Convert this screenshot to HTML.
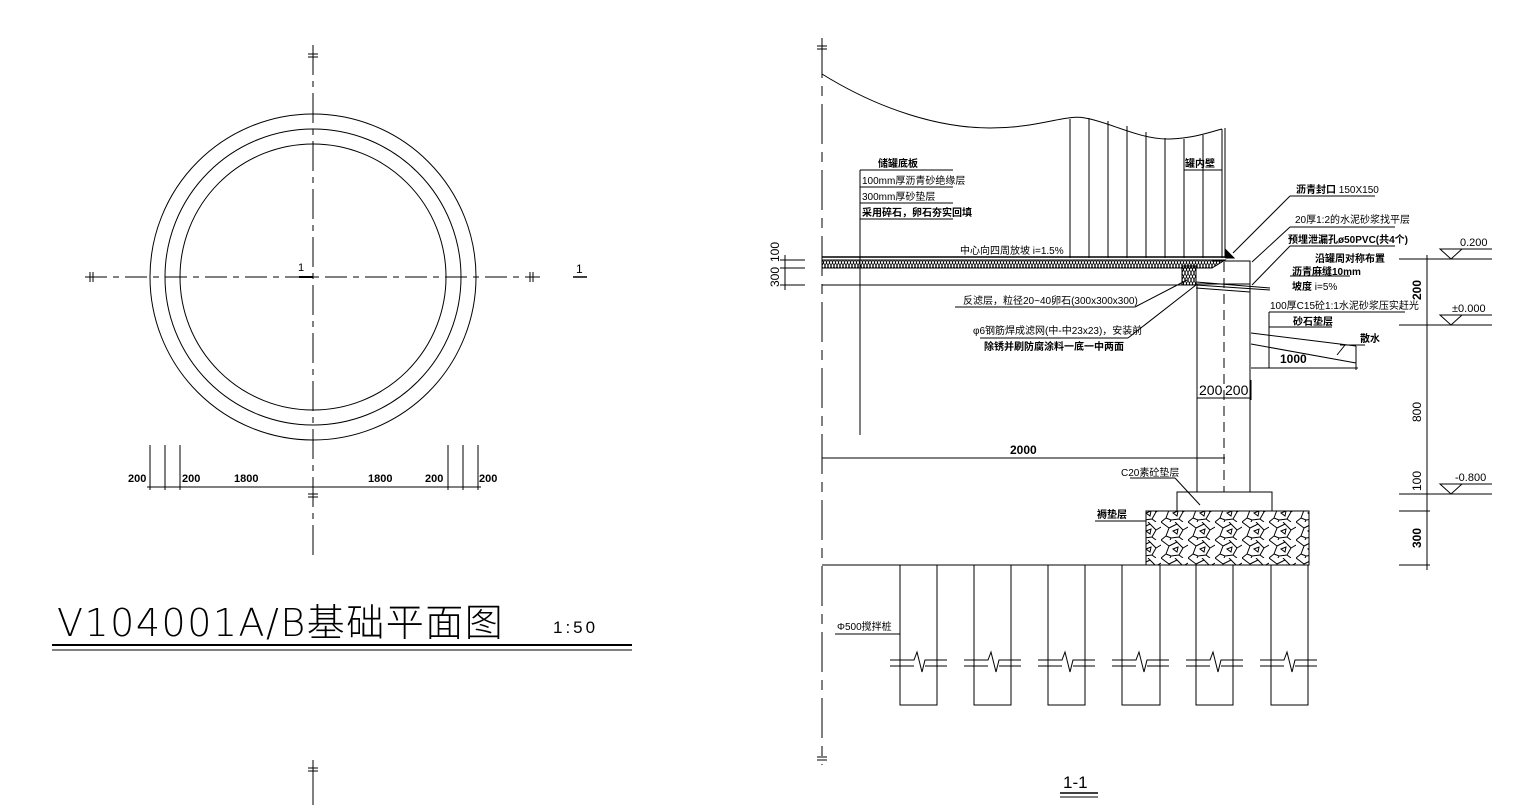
<!DOCTYPE html>
<html><head><meta charset="utf-8"><style>
html,body{margin:0;padding:0;background:#fff;}
svg{display:block;}
text{font-family:"Liberation Sans","Noto Sans CJK SC",sans-serif;fill:#000;}
.b{font-weight:bold;}
</style></head><body>
<svg width="1521" height="811" viewBox="0 0 1521 811" xmlns="http://www.w3.org/2000/svg">
<defs>
<pattern id="hx" width="6" height="7" patternUnits="userSpaceOnUse">
<path d="M0,0 L3,7 L6,0 M0,7 L3,0 L6,7" stroke="#000" stroke-width="0.8" fill="none"/>
</pattern>
<pattern id="rk" width="27" height="18" patternUnits="userSpaceOnUse">
<path d="M0,0 L8,6 L5,14 L0,18 M8,6 L16,2 L22,8 L18,15 L10,16 L5,14 M22,8 L27,5 M18,15 L22,18 M16,2 L14,0 M10,16 L9,18 M12,9 L17,7 L16,12 Z" stroke="#000" stroke-width="1" fill="none"/>
</pattern>
</defs>
<g stroke="#000" stroke-width="1" fill="none">
<circle cx="313" cy="277" r="163"/>
<circle cx="313" cy="277" r="148"/>
<circle cx="313" cy="277" r="133"/>
<line x1="85" y1="277" x2="540" y2="277" stroke-dasharray="22,6,6,6"/>
<line x1="313" y1="45" x2="313" y2="560" stroke-dasharray="30,6,6,6"/>
<line x1="313" y1="760" x2="313" y2="805"/>
<line x1="90" y1="272" x2="90" y2="282"/><line x1="93" y1="272" x2="93" y2="282"/>
<line x1="530" y1="272" x2="530" y2="282"/><line x1="533" y1="272" x2="533" y2="282"/>
<line x1="308" y1="54" x2="318" y2="54"/><line x1="308" y1="57" x2="318" y2="57"/>
<line x1="308" y1="494" x2="318" y2="494"/><line x1="308" y1="497" x2="318" y2="497"/>
<line x1="308" y1="768" x2="318" y2="768"/><line x1="308" y1="771" x2="318" y2="771"/>
<line x1="299" y1="277" x2="313" y2="277" stroke-width="2"/>
<line x1="573" y1="277" x2="587" y2="277" stroke-width="1.5"/>
<line x1="150" y1="445" x2="150" y2="490"/><line x1="165" y1="445" x2="165" y2="490"/><line x1="180" y1="445" x2="180" y2="490"/>
<line x1="448" y1="445" x2="448" y2="490"/><line x1="463" y1="445" x2="463" y2="490"/><line x1="478" y1="445" x2="478" y2="490"/>
<line x1="147" y1="487" x2="481" y2="487"/>
<line x1="52" y1="645" x2="632" y2="645" stroke-width="2"/>
<line x1="52" y1="650" x2="632" y2="650"/>
<line x1="822" y1="38" x2="822" y2="765" stroke-dasharray="40,8,10,8"/>
<line x1="817" y1="46" x2="827" y2="46"/><line x1="817" y1="49" x2="827" y2="49"/>
<line x1="817" y1="757" x2="827" y2="757"/><line x1="817" y1="760" x2="827" y2="760"/>
<path d="M822,74 C880,110 940,128 990,128 C1040,128 1065,114 1085,118 C1110,122 1140,140 1170,139 C1195,138 1210,132 1222,129"/>
<line x1="1222" y1="129" x2="1222" y2="258"/><line x1="1225" y1="128" x2="1225" y2="258"/>
<g>
<line x1="1070" y1="119" x2="1070" y2="258"/><line x1="1089" y1="118" x2="1089" y2="258"/><line x1="1108" y1="121" x2="1108" y2="258"/><line x1="1127" y1="126" x2="1127" y2="258"/><line x1="1146" y1="132" x2="1146" y2="258"/><line x1="1165" y1="138" x2="1165" y2="258"/><line x1="1184" y1="139" x2="1184" y2="258"/><line x1="1203" y1="135" x2="1203" y2="258"/>
</g>
<line x1="1184" y1="170" x2="1222" y2="170"/>
<line x1="822" y1="257" x2="1225" y2="257" stroke-width="1.5"/>
<polygon points="822,260 1225,260 1212,268 822,268" fill="url(#hx)"/>
<line x1="822" y1="260" x2="1225" y2="260"/>
<line x1="822" y1="268" x2="1212" y2="268"/>
<line x1="822" y1="285" x2="1196" y2="285"/>
<rect x="1182" y="266" width="14" height="19" fill="url(#hx)"/>
<path d="M1212,261 L1250,261 L1250,284 L1196,284"/>
<path d="M1226,258 L1234,258 L1226,250 Z" fill="#000"/>
<path d="M1196,282 L1270,288 M1196,285 L1270,290 M1196,288 L1250,292"/>
<line x1="1197" y1="285" x2="1197" y2="492"/><line x1="1250" y1="284" x2="1250" y2="492"/>
<line x1="1224" y1="262" x2="1224" y2="492" stroke-dasharray="10,6"/>
<line x1="860" y1="170" x2="860" y2="435"/>
<line x1="860" y1="170" x2="953" y2="170"/><line x1="860" y1="187" x2="953" y2="187"/><line x1="860" y1="203" x2="953" y2="203"/><line x1="860" y1="219" x2="953" y2="219"/>
<line x1="955" y1="307" x2="1135" y2="307"/><line x1="1135" y1="307" x2="1187" y2="280"/>
<line x1="980" y1="338" x2="1128" y2="338"/><line x1="1128" y1="338" x2="1196" y2="285"/>
<line x1="780" y1="260" x2="805" y2="260"/><line x1="780" y1="268" x2="805" y2="268"/><line x1="780" y1="285" x2="805" y2="285"/>
<line x1="785" y1="255" x2="785" y2="290"/>
<line x1="822" y1="458" x2="1225" y2="458"/>
<line x1="1197" y1="398" x2="1251" y2="398"/>
<line x1="1197" y1="380" x2="1197" y2="400"/><line x1="1251" y1="380" x2="1251" y2="400"/>
<line x1="1290" y1="196" x2="1375" y2="196"/><line x1="1290" y1="196" x2="1233" y2="253"/>
<line x1="1290" y1="227" x2="1395" y2="227"/><line x1="1290" y1="227" x2="1252" y2="262"/>
<line x1="1290" y1="246" x2="1395" y2="246"/><line x1="1290" y1="246" x2="1252" y2="285"/>
<line x1="1290" y1="276" x2="1350" y2="276"/>
<line x1="1269" y1="312" x2="1405" y2="312"/><line x1="1269" y1="312" x2="1269" y2="368"/>
<line x1="1269" y1="327" x2="1332" y2="327"/>
<line x1="1340" y1="345" x2="1365" y2="345"/><line x1="1345" y1="345" x2="1337" y2="355"/>
<line x1="1251" y1="333" x2="1356" y2="346"/><line x1="1251" y1="344" x2="1356" y2="363"/>
<line x1="1356" y1="346" x2="1356" y2="370"/>
<line x1="1251" y1="368" x2="1358" y2="368"/>
<line x1="1399" y1="259" x2="1492" y2="259"/><line x1="1399" y1="325" x2="1492" y2="325"/>
<line x1="1399" y1="494" x2="1492" y2="494"/><line x1="1399" y1="511" x2="1430" y2="511"/><line x1="1399" y1="565" x2="1430" y2="565"/>
<line x1="1427" y1="255" x2="1427" y2="570"/>
<path d="M1440,249 L1462,249 L1451,259 Z"/><path d="M1440,315 L1462,315 L1451,325 Z"/><path d="M1440,484 L1462,484 L1451,494 Z"/>
<line x1="1451" y1="249" x2="1492" y2="249"/><line x1="1451" y1="315" x2="1492" y2="315"/><line x1="1451" y1="484" x2="1492" y2="484"/>
<rect x="1177" y="492" width="95" height="19"/>
<line x1="1130" y1="478" x2="1175" y2="478"/><line x1="1175" y1="478" x2="1200" y2="505"/>
<rect x="1146" y="511" width="163" height="54" fill="url(#rk)"/>
<line x1="1095" y1="521" x2="1146" y2="521"/>
<line x1="822" y1="565" x2="1309" y2="565"/>
<line x1="835" y1="634" x2="900" y2="634"/>
<path d="M900,565 L900,705 L937,705 L937,565"/>
<path d="M974,565 V705 H1011 V565 M1048,565 V705 H1085 V565 M1122,565 V705 H1160 V565 M1196,565 V705 H1233 V565 M1271,565 V705 H1308 V565"/>
<g fill="#fff">
<path d="M890,660 H914 L917,652 L922,672 L925,660 H947 M890,666 H914 M925,666 H947"/>
<path d="M964,660 H988 L991,652 L996,672 L999,660 H1021 M964,666 H988 M999,666 H1021"/>
<path d="M1038,660 H1062 L1065,652 L1070,672 L1073,660 H1095 M1038,666 H1062 M1073,666 H1095"/>
<path d="M1112,660 H1136 L1139,652 L1144,672 L1147,660 H1169 M1112,666 H1136 M1147,666 H1169"/>
<path d="M1186,660 H1210 L1213,652 L1218,672 L1221,660 H1243 M1186,666 H1210 M1221,666 H1243"/>
<path d="M1260,660 H1284 L1287,652 L1292,672 L1295,660 H1317 M1260,666 H1284 M1295,666 H1317"/>
</g>
<line x1="1060" y1="793" x2="1098" y2="793" stroke-width="1.5"/>
<line x1="1060" y1="797" x2="1098" y2="797"/>
</g>
<text x="298" y="271" font-size="11">1</text>
<text x="576" y="273" font-size="12">1</text>
<g font-size="11" class="b">
<text x="128" y="482">200</text><text x="182" y="482">200</text><text x="234" y="482">1800</text>
<text x="368" y="482">1800</text><text x="425" y="482">200</text><text x="479" y="482">200</text>
</g>
<text x="57" y="636" font-size="38" letter-spacing="1.5" style="font-family:'DejaVu Sans','Noto Sans CJK SC',sans-serif;font-weight:200">V104001A/B基础平面图</text>
<text x="553" y="633" font-size="17" letter-spacing="3">1:50</text>
<g font-size="10" class="b">
<text x="878" y="167">储罐底板</text>
<text x="862" y="184" font-weight="normal">100mm厚沥青砂绝缘层</text>
<text x="862" y="200" font-weight="normal">300mm厚砂垫层</text>
<text x="862" y="216">采用碎石，卵石夯实回填</text>
<text x="1185" y="167">罐内壁</text>
<text x="960" y="254" font-weight="normal">中心向四周放坡 i=1.5%</text>
<text x="963" y="304" font-weight="normal">反滤层，粒径20~40卵石(300x300x300)</text>
<text x="973" y="334" font-weight="normal">φ6钢筋焊成滤网(中-中23x23)，安装前</text>
<text x="984" y="350">除锈并刷防腐涂料一底一中两面</text>
<text x="1296" y="193">沥青封口 <tspan font-weight="normal">150X150</tspan></text>
<text x="1295" y="223" font-weight="normal">20厚1:2的水泥砂浆找平层</text>
<text x="1288" y="243">预埋泄漏孔ø50PVC(共4个)</text>
<text x="1315" y="262">沿罐周对称布置</text>
<text x="1292" y="275">沥青麻缝10mm</text>
<text x="1292" y="290">坡度 <tspan font-weight="normal">i=5%</tspan></text>
<text x="1270" y="309" font-weight="normal">100厚C15砼1:1水泥砂浆压实赶光</text>
<text x="1293" y="325">砂石垫层</text>
<text x="1360" y="342">散水</text>
<text x="1121" y="476" font-weight="normal">C20素砼垫层</text>
<text x="1097" y="518">褥垫层</text>
<text x="837" y="630" font-weight="normal">Φ500搅拌桩</text>
</g>
<g font-size="12" class="b">
<text x="1010" y="454">2000</text>
<text x="1280" y="363">1000</text>
</g>
<text x="1199" y="395" font-size="14">200</text><text x="1225" y="395" font-size="14">200</text>
<g font-size="11">
<text x="1460" y="246">0.200</text><text x="1452" y="312">±0.000</text><text x="1455" y="481">-0.800</text>
<text transform="translate(1421,300) rotate(-90)" font-size="12" class="b">200</text>
<text transform="translate(1421,422) rotate(-90)" font-size="12">800</text>
<text transform="translate(1421,491) rotate(-90)" font-size="12">100</text>
<text transform="translate(1421,548) rotate(-90)" font-size="12" class="b">300</text>
<text transform="translate(779,287) rotate(-90)" font-size="12">300</text>
<text transform="translate(779,262) rotate(-90)" font-size="12">100</text>
</g>
<text x="1063" y="788" font-size="17">1-1</text>
</svg>
</body></html>
